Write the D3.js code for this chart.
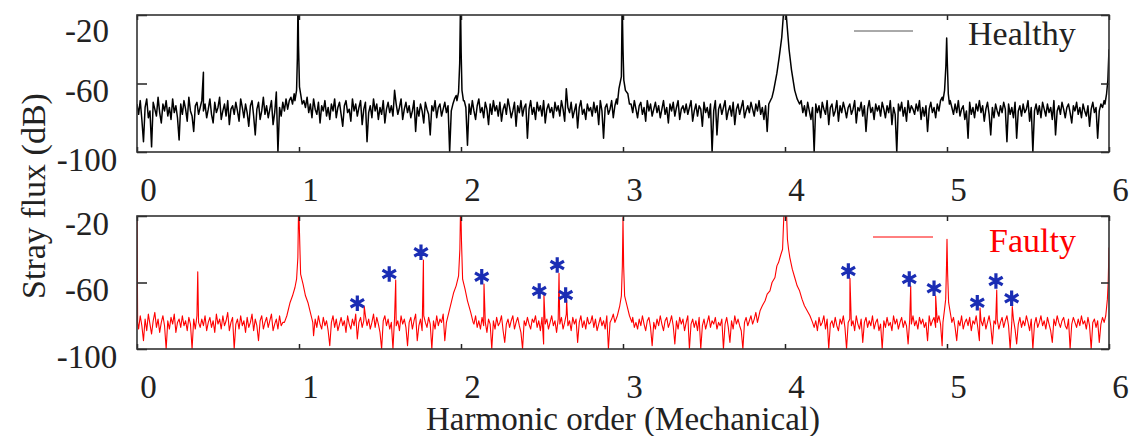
<!DOCTYPE html>
<html>
<head>
<meta charset="utf-8">
<script src="https://cdn.jsdelivr.net/npm/d3@7"></script>
<style>
  body { margin: 0; background: #fff; }
  svg, svg text { font-family: "Liberation Serif", "Times New Roman", serif; }
</style>
</head>
<body>
<svg id="chart" width="1131" height="436"></svg>
<script>
// ---- data ----
const harmonicTicks = [0, 1, 2, 3, 4, 5, 6];
const dbTicks = [-20, -60, -100];
const step = 0.01; // noise samples every 0.01 harmonic order

// healthy noise floor, h = 0.00 .. 5.99
const healthyNoise = [
  -72,-78,-70,-81,-94,-74,-69,-80,-76,-97,-71,-75,-79,-68,-77,-83,-72,-76,-70,-79,
  -74,-81,-69,-77,-73,-80,-93,-72,-78,-70,-75,-82,-68,-76,-79,-88,-73,-71,-78,-74,
  -70,-76,-72,-80,-75,-69,-78,-83,-71,-77,-74,-68,-81,-76,-72,-79,-70,-84,-75,-73,
  -78,-71,-76,-82,-69,-74,-80,-72,-77,-85,-73,-70,-79,-90,-75,-71,-81,-76,-68,-78,
  -73,-80,-75,-70,-84,-77,-65,-100,-74,-79,-71,-76,-69,-75,-70,-68,-72,-66,-64,-63,
  -62,-64,-66,-70,-74,-68,-77,-72,-80,-69,-75,-78,-71,-83,-73,-76,-70,-79,-74,-81,
  -72,-76,-69,-80,-74,-71,-78,-85,-73,-70,-77,-75,-82,-69,-76,-72,-79,-74,-70,-84,
  -75,-71,-94,-77,-73,-80,-69,-76,-72,-81,-74,-78,-70,-83,-75,-71,-77,-73,-79,-64,
  -72,-78,-74,-69,-81,-75,-71,-77,-73,-80,-76,-70,-88,-74,-79,-72,-76,-83,-71,-75,
  -78,-90,-73,-76,-70,-80,-74,-72,-79,-75,-71,-77,-73,-100,-76,-72,-69,-67,-65,-63,
  -62,-66,-70,-74,-96,-72,-78,-70,-76,-81,-73,-69,-77,-74,-80,-71,-75,-84,-72,-78,
  -70,-76,-73,-79,-71,-82,-75,-72,-78,-69,-74,-80,-76,-71,-85,-73,-77,-70,-79,-74,
  -72,-92,-75,-70,-78,-74,-81,-71,-76,-73,-79,-70,-83,-75,-72,-77,-74,-80,-71,-76,
  -73,-79,-70,-75,-82,-63,-74,-77,-71,-80,-76,-72,-86,-74,-70,-78,-75,-81,-72,-76,
  -74,-79,-71,-77,-73,-84,-70,-76,-92,-74,-72,-78,-75,-70,-80,-73,-69,-68,-65,-64,
  -63,-64,-66,-68,-100,-72,-77,-70,-75,-80,-73,-71,-78,-74,-82,-70,-76,-72,-79,-75,
  -71,-77,-73,-80,-75,-70,-78,-74,-83,-72,-76,-71,-79,-74,-70,-81,-75,-73,-77,-72,
  -78,-74,-70,-82,-76,-72,-79,-73,-75,-85,-71,-77,-74,-80,-72,-100,-76,-70,-90,-75,
  -72,-78,-74,-70,-81,-76,-73,-79,-71,-84,-75,-72,-78,-74,-70,-80,-76,-73,-77,-71,
  -75,-79,-72,-76,-70,-78,-74,-81,-73,-88,-70,-69,-66,-64,-60,-55,-45,-35,-25,-20,
  -20,-30,-45,-55,-62,-66,-68,-70,-72,-74,-70,-77,-73,-79,-71,-76,-81,-74,-100,-72,
  -77,-73,-80,-71,-75,-78,-70,-84,-74,-72,-79,-76,-70,-82,-73,-77,-71,-75,-80,-74,
  -72,-78,-75,-70,-83,-74,-76,-71,-79,-73,-88,-75,-70,-77,-74,-81,-72,-76,-73,-79,
  -71,-75,-80,-73,-77,-70,-84,-74,-78,-100,-72,-76,-71,-79,-74,-82,-70,-77,-73,-75,
  -78,-72,-76,-70,-81,-74,-79,-73,-88,-75,-71,-77,-74,-80,-72,-76,-70,-68,-66,-64,
  -62,-66,-70,-74,-78,-72,-77,-70,-79,-75,-73,-81,-76,-92,-71,-78,-74,-80,-72,-76,
  -70,-77,-73,-82,-75,-71,-78,-90,-74,-80,-72,-76,-79,-73,-77,-71,-75,-94,-72,-78,
  -74,-80,-71,-92,-76,-73,-79,-72,-77,-75,-70,-82,-74,-100,-76,-72,-78,-73,-80,-71,
  -75,-79,-72,-77,-74,-81,-70,-90,-76,-73,-78,-71,-75,-80,-74,-72,-77,-83,-73,-76,
  -71,-78,-74,-80,-72,-76,-79,-73,-85,-75,-71,-77,-74,-92,-76,-72,-74,-70,-68,-66
];

// faulty noise floor, h = 0.00 .. 5.99
const faultyNoise = [
  -84,-88,-80,-86,-95,-82,-89,-79,-85,-91,-83,-78,-87,-82,-90,-84,-80,-86,-100,-83,
  -88,-81,-85,-79,-90,-84,-82,-87,-80,-86,-83,-89,-81,-85,-100,-82,-88,-80,-84,-87,
  -82,-86,-80,-89,-84,-81,-87,-83,-90,-79,-85,-82,-88,-80,-86,-83,-78,-89,-84,-81,
  -100,-85,-82,-88,-80,-86,-83,-90,-81,-87,-84,-79,-89,-82,-86,-95,-83,-80,-88,-84,
  -81,-87,-83,-79,-89,-85,-82,-88,-80,-86,-84,-81,-78,-83,-76,-79,-74,-72,-70,-66,
  -60,-62,-66,-70,-74,-72,-78,-80,-84,-92,-82,-87,-80,-85,-88,-81,-86,-83,-89,-98,
  -84,-80,-87,-82,-89,-85,-81,-86,-83,-90,-80,-85,-88,-82,-86,-79,-94,-84,-81,-87,
  -83,-80,-86,-82,-88,-84,-79,-87,-81,-85,-90,-100,-83,-80,-86,-82,-88,-84,-100,-81,
  -86,-83,-89,-80,-85,-82,-87,-98,-84,-81,-88,-83,-79,-95,-86,-82,-89,-80,-84,-87,
  -81,-85,-100,-83,-88,-80,-86,-82,-84,-79,-95,-84,-80,-78,-76,-73,-70,-68,-65,-62,
  -60,-63,-66,-70,-73,-76,-79,-82,-85,-80,-87,-83,-88,-81,-86,-84,-90,-82,-85,-100,
  -83,-88,-81,-86,-84,-80,-89,-96,-85,-82,-87,-83,-80,-88,-84,-81,-86,-90,-100,-83,
  -86,-81,-85,-88,-82,-84,-80,-87,-83,-89,-81,-97,-85,-82,-88,-84,-80,-86,-83,-90,
  -82,-85,-81,-88,-84,-79,-86,-83,-89,-81,-85,-82,-96,-84,-80,-87,-83,-88,-81,-85,
  -84,-80,-87,-82,-89,-85,-81,-86,-83,-88,-80,-100,-84,-82,-79,-95,-82,-78,-74,-70,
  -62,-68,-72,-76,-80,-83,-81,-87,-84,-88,-82,-86,-80,-85,-89,-83,-81,-87,-98,-84,
  -88,-82,-86,-80,-85,-89,-83,-81,-87,-84,-80,-86,-97,-83,-88,-81,-85,-82,-89,-84,
  -80,-100,-85,-82,-87,-83,-89,-81,-100,-86,-82,-88,-84,-80,-87,-83,-85,-81,-88,-84,
  -86,-82,-100,-85,-81,-87,-96,-83,-88,-80,-85,-82,-86,-89,-100,-84,-81,-86,-83,-80,
  -85,-82,-78,-84,-80,-77,-74,-71,-68,-64,-60,-55,-48,-42,-40,-38,-35,-30,-25,-20,
  -20,-30,-40,-45,-52,-57,-62,-65,-70,-74,-77,-80,-83,-86,-82,-88,-84,-80,-87,-83,
  -89,-81,-86,-84,-80,-88,-82,-100,-85,-83,-87,-81,-86,-89,-82,-85,-80,-87,-100,-84,
  -82,-86,-83,-89,-80,-85,-88,-82,-96,-84,-81,-87,-83,-86,-80,-88,-84,-82,-89,-85,
  -100,-83,-87,-81,-86,-84,-89,-80,-85,-82,-88,-84,-81,-87,-83,-86,-97,-82,-85,-80,
  -86,-83,-88,-81,-85,-82,-87,-84,-95,-80,-86,-83,-81,-87,-84,-80,-85,-98,-82,-79,
  -72,-78,-82,-85,-81,-87,-95,-83,-86,-80,-88,-84,-82,-86,-81,-89,-83,-85,-80,-87,
  -95,-83,-86,-81,-88,-84,-80,-86,-97,-83,-85,-82,-88,-84,-81,-87,-83,-80,-86,-100,
  -84,-82,-88,-97,-85,-81,-87,-83,-86,-80,-84,-89,-82,-100,-85,-81,-87,-84,-80,-86,
  -83,-88,-81,-85,-89,-96,-82,-86,-80,-84,-87,-83,-81,-86,-88,-82,-100,-85,-81,-84,
  -87,-82,-86,-80,-85,-83,-88,-81,-86,-100,-84,-82,-87,-83,-96,-85,-81,-86,-80,-78
];

// supply harmonic peaks [h, dB] (replace the noise inside their span)
const healthyPeaks = [
  [[0.975,-70],[0.985,-64],[0.99,-45],[0.994,-12],[0.997,-38],[1.003,-62],[1.01,-66],[1.02,-72]],
  [[1.975,-70],[1.985,-65],[1.992,-48],[1.997,-12],[2.001,-42],[2.006,-64],[2.015,-70]],
  [[2.965,-72],[2.975,-63],[2.99,-56],[2.995,-12],[3.0,-40],[3.005,-58],[3.015,-64],[3.03,-66],[3.04,-72]],
  [[3.90,-72],[3.92,-68],[3.93,-64],[3.95,-54],[3.965,-44],[3.98,-33],[3.99,-20],[3.996,-15],[4.0,-19],
   [4.004,-15],[4.012,-25],[4.025,-40],[4.04,-52],[4.06,-64],[4.075,-69],[4.09,-72]],
  [[4.975,-70],[4.985,-64],[4.993,-50],[4.998,-33.5],[5.002,-48],[5.008,-66],[5.015,-72]],
  [[5.975,-72],[5.985,-66],[5.993,-58],[6.0,-40]]
];
const healthySpikes = [[0.41,-53.5]];

const faultyPeaks = [
  [[0,-15],[0.004,-84]],
  [[0.91,-84],[0.925,-80],[0.945,-72],[0.96,-68],[0.975,-63],[0.985,-58],[0.993,-45],[0.998,-10],
   [1.003,-30],[1.01,-55],[1.025,-61],[1.04,-68],[1.055,-72],[1.07,-78],[1.085,-84]],
  [[1.91,-84],[1.925,-78],[1.94,-72],[1.955,-66],[1.97,-62],[1.985,-56],[1.993,-40],[1.998,-10],
   [2.003,-35],[2.01,-58],[2.025,-64],[2.04,-71],[2.06,-78],[2.075,-84]],
  [[2.95,-84],[2.965,-80],[2.98,-74],[2.99,-68],[2.996,-50],[3.0,-21],[3.004,-50],[3.01,-68],
   [3.025,-74],[3.04,-80],[3.055,-84]],
  [[3.83,-84],[3.846,-77],[3.86,-74],[3.877,-71],[3.89,-67],[3.907,-65],[3.92,-60],[3.938,-57],
   [3.95,-50],[3.96,-48],[3.975,-43],[3.985,-40],[3.992,-22],[3.997,-14],[4.003,-20],[4.008,-14],
   [4.015,-34],[4.022,-40],[4.03,-45],[4.045,-52],[4.06,-57],[4.075,-62],[4.09,-65],[4.105,-70],
   [4.12,-74],[4.137,-77],[4.154,-80],[4.17,-84]],
  [[4.975,-84],[4.985,-76],[4.992,-70],[4.997,-50],[5.0,-34],[5.004,-55],[5.01,-72],[5.02,-78],[5.03,-84]],
  [[5.97,-84],[5.98,-80],[5.99,-70],[5.995,-60],[6.0,-39]]
];
// narrow fault components [h, dB]
const faultySpikes = [
  [0.375,-53.5],[1.403,-74.5],[1.597,-58.5],[1.768,-46.5],[2.142,-60.9],[2.512,-67.5],[2.605,-54.5],
  [2.652,-70.5],[4.401,-57.5],[4.776,-62.1],[4.930,-68.2],[5.204,-75.3],[5.307,-64.6],[5.403,-74.5]
];
// asterisk markers
const markerH  = [1.360, 1.557, 1.753, 2.128, 2.483, 2.594, 2.646, 4.391, 4.767, 4.920, 5.187, 5.302, 5.399];
const markerDb = [-72.5, -54.9, -41.8, -56.5, -65.1, -49.5, -67.5, -53.1, -57.9, -63.5, -72.2, -59.1, -69.5];

// ---- layout ----
const svg = d3.select('#chart');
const left = 137, right = 1109;
const x = d3.scaleLinear().domain([0, 6]).range([left, right]);
const serif = '"Liberation Serif", "Times New Roman", serif';

const panels = [
  { id: 'healthy', top: 15, bottom: 152, noise: healthyNoise, peaks: healthyPeaks, spikes: healthySpikes,
    color: '#000', width: 1.5, label: 'Healthy', labelColor: '#222',
    legendLine: [854, 913, 31], legendText: [968, 45] },
  { id: 'faulty', top: 216, bottom: 349, noise: faultyNoise, peaks: faultyPeaks, spikes: faultySpikes,
    color: '#ff0000', width: 1.1, label: 'Faulty', labelColor: '#ff0000',
    legendLine: [873, 933, 237], legendText: [989, 252] }
];

// merge noise floor, peaks and spikes into one sorted series
function buildSeries(noise, peaks, spikes) {
  let pts = noise.map((v, i) => [i * step, v]);
  peaks.forEach(p => {
    const a = p[0][0], b = p[p.length - 1][0];
    pts = pts.filter(d => d[0] < a - 1e-9 || d[0] > b + 1e-9).concat(p);
  });
  return pts.concat(spikes).sort((a, b) => a[0] - b[0]);
}

panels.forEach(p => {
  const y = d3.scaleLinear().domain([-100, -20]).range([p.bottom, p.top]);
  const g = svg.append('g');

  g.append('clipPath').attr('id', 'clip-' + p.id)
    .append('rect')
    .attr('x', left).attr('y', p.top)
    .attr('width', right - left).attr('height', p.bottom - p.top);

  const line = d3.line().x(d => x(d[0])).y(d => y(d[1]));
  g.append('path')
    .datum(buildSeries(p.noise, p.peaks, p.spikes))
    .attr('clip-path', 'url(#clip-' + p.id + ')')
    .attr('fill', 'none')
    .attr('stroke', p.color)
    .attr('stroke-width', p.width)
    .attr('stroke-linejoin', 'round')
    .attr('d', line);

  // ticks
  const xb = g.append('g').attr('transform', `translate(0,${p.bottom})`)
    .call(d3.axisBottom(x).tickValues(harmonicTicks).tickFormat(d3.format('d'))
      .tickSizeInner(-5).tickSizeOuter(0).tickPadding(26));
  xb.select('.domain').remove();
  xb.selectAll('line').attr('stroke', '#222').attr('stroke-width', 1.5);
  xb.selectAll('text').attr('dx', 11).attr('fill', '#222')
    .style('font-family', serif).style('font-size', '33px');

  const xt = g.append('g').attr('transform', `translate(0,${p.top})`)
    .call(d3.axisTop(x).tickValues(harmonicTicks).tickSizeInner(-5).tickSizeOuter(0).tickFormat(''));
  xt.select('.domain').remove();
  xt.selectAll('line').attr('stroke', '#222').attr('stroke-width', 1.5);

  const yl = g.append('g').attr('transform', `translate(${left},0)`)
    .call(d3.axisLeft(y).tickValues(dbTicks).tickFormat(d => String(d))
      .tickSizeInner(-10).tickSizeOuter(0));
  yl.select('.domain').remove();
  yl.selectAll('line').attr('stroke', '#222').attr('stroke-width', 1.5);
  yl.selectAll('text')
    .attr('text-anchor', 'middle').attr('x', -50).attr('dy', null)
    .attr('y', d => Math.max(18, 41 - y(d)))
    .attr('fill', '#222')
    .style('font-family', serif).style('font-size', '33px');

  const yr = g.append('g').attr('transform', `translate(${right},0)`)
    .call(d3.axisRight(y).tickValues(dbTicks).tickSizeInner(-8).tickSizeOuter(0).tickFormat(''));
  yr.select('.domain').remove();
  yr.selectAll('line').attr('stroke', '#222').attr('stroke-width', 1.5);

  // frame
  g.append('rect')
    .attr('x', left).attr('y', p.top)
    .attr('width', right - left).attr('height', p.bottom - p.top)
    .attr('fill', 'none').attr('stroke', '#333').attr('stroke-width', 1.6);

  // legend
  g.append('line')
    .attr('x1', p.legendLine[0]).attr('x2', p.legendLine[1])
    .attr('y1', p.legendLine[2]).attr('y2', p.legendLine[2])
    .attr('stroke', p.id === 'healthy' ? '#555' : '#ff0000').attr('stroke-width', 1);
  g.append('text')
    .attr('x', p.legendText[0]).attr('y', p.legendText[1])
    .attr('font-size', 34).attr('fill', p.labelColor)
    .text(p.label);

  // fault markers
  if (p.id === 'faulty') {
    g.selectAll('path.marker')
      .data(markerH.map((h, i) => [h, markerDb[i]]))
      .enter().append('path')
      .attr('class', 'marker')
      .attr('transform', d => `translate(${x(d[0])},${y(d[1])})`)
      .attr('d', d3.symbol().type(d3.symbolAsterisk).size(170))
      .attr('fill', 'none')
      .attr('stroke', '#1a2db4')
      .attr('stroke-width', 3.2);
  }
});

// axis titles
svg.append('text')
  .attr('transform', 'translate(45,196) rotate(-90)')
  .attr('text-anchor', 'middle')
  .attr('font-size', 34).attr('fill', '#222')
  .text('Stray flux (dB)');

svg.append('text')
  .attr('x', (left + right) / 2).attr('y', 430)
  .attr('text-anchor', 'middle')
  .attr('font-size', 33).attr('fill', '#222')
  .text('Harmonic order (Mechanical)');
</script>
</body>
</html>
